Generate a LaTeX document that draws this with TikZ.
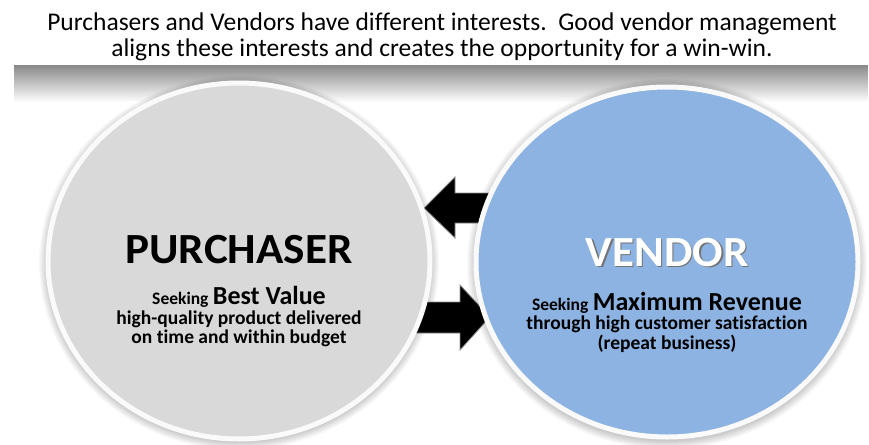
\documentclass[tikz,border=0pt]{standalone}
\usepackage{fontspec}
\setmainfont[Ligatures=NoCommon]{Carlito}
\usetikzlibrary{shapes.geometric,fadings}
\definecolor{purfill}{HTML}{D9D9D9}
\definecolor{venfill}{HTML}{8DB3E2}
\definecolor{ringcol}{HTML}{FAFAFA}
\tikzset{
  bubble/.style={ellipse, draw=ringcol, line width=5pt, inner sep=0pt},
  bigarrow/.style={fill=black, draw=black!45, line width=0.8pt, line join=miter},
  titletext/.style={font=\fontsize{43}{46}\selectfont\bfseries, xscale=1.05},
  bodytext/.style={font=\fontsize{19.5}{19.5}\selectfont\bfseries, align=center},
  headtext/.style={font=\fontsize{25.5}{26}\selectfont, align=center}
}
\newcommand{\seekword}{{\fontsize{17.5}{19.5}\selectfont Seeking}}
\newcommand{\aimword}[1]{{\fontsize{26}{19.5}\selectfont #1}}
\begin{document}
\begin{tikzpicture}[x=1pt,y=-1pt]
\useasboundingbox (0,0) rectangle (869,444);
\fill[white] (0,0) rectangle (869,444);

% banner with its soft shadow underneath
\fill[black!50, path fading=south] (14,62) rectangle (869,102);
\fill[white] (8,0) rectangle (869,65);
\node[headtext] (head) at (442,36.5) {Purchasers and Vendors have different interests.\ \ Good vendor management\\aligns these interests and creates the opportunity for a win-win.};

% soft halos around the two bubbles
\foreach \i in {1,...,9}{
  \fill[black, opacity=0.025] (239,263) ellipse ({191+\i} and {178+\i});
  \fill[black, opacity=0.025] (667,264) ellipse ({191+\i} and {176+\i});
}

% block arrows, partly hidden behind the bubbles
\coordinate (ltip) at (424,208);
\coordinate (rtip) at (490,317);
\draw[bigarrow] (ltip) -- (455,177) -- (455,193) -- (510,193) -- (510,223) -- (455,223) -- (455,238) -- cycle;
\draw[bigarrow] (rtip) -- (460,285) -- (460,302) -- (400,302) -- (400,333) -- (460,333) -- (460,350) -- cycle;

% the two bubbles
\node[bubble, fill=purfill, minimum width=382pt, minimum height=356pt] (pur) at (239,261) {};
\node[bubble, fill=venfill, minimum width=382pt, minimum height=350pt] (ven) at (667,262) {};

% purchaser text
\node[titletext] (purtitle) at (239,250) {PURCHASER};
\node[bodytext] (purbody) at (239,317) {\seekword{} \aimword{Best Value}\\high-quality product delivered\\on time and within budget};

% vendor text, white with a dark drop shadow
\node[titletext] (ventitle) at (667,253)
  {\rlap{\hspace{1.5pt}\raisebox{-1.5pt}{\color{black!55}VENDOR}}\color{white}VENDOR};
\node[bodytext] (venbody) at (667,322) {\seekword{} \aimword{Maximum Revenue}\\through high customer satisfaction\\(repeat business)};
\end{tikzpicture}
\end{document}
